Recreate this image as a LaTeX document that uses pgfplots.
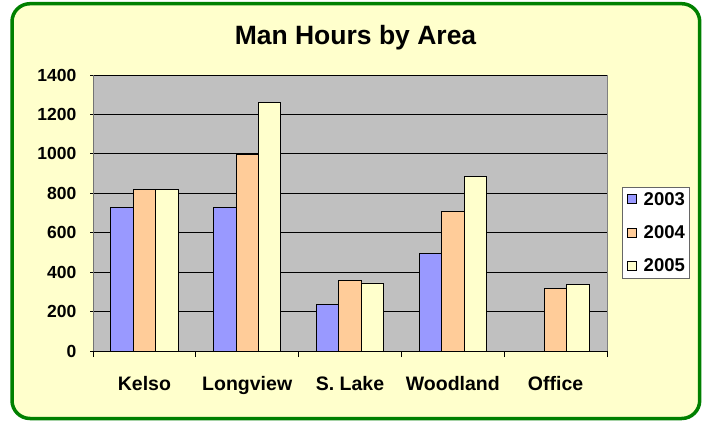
\documentclass[border=0pt]{standalone}
\usepackage{pgfplots}
\pgfplotsset{compat=1.18}
\usepackage{fontspec}
\setmainfont{Liberation Sans}
\definecolor{bggray}{HTML}{C0C0C0}
\definecolor{cA}{HTML}{9999FF}
\definecolor{cB}{HTML}{FFCC99}
\definecolor{cC}{HTML}{FFFFCC}
\definecolor{paper}{HTML}{FFFFCC}
\definecolor{frame}{HTML}{008000}
\begin{document}
\begin{tikzpicture}[x=1pt,y=1pt]
\path[fill=white] (0,0) rectangle (711,421);
\draw[frame, line width=3.5pt, rounded corners=18pt, fill=paper] (12,2.5) rectangle (699.7,417.3);
\node[anchor=base, font=\fontsize{26.5}{30}\selectfont\bfseries] at (355.5,376.7) {Man Hours by Area};
\begin{axis}[
  at={(93pt,70pt)}, anchor=south west,
  scale only axis, width=514pt, height=276pt,
  xmin=-0.5, xmax=4.5, ymin=0, ymax=1400,
  ytick={0,200,...,1400},
  xtick={0,1,2,3,4},
  xticklabels={Kelso,Longview,S. Lake,Woodland,Office},
  minor xtick={-0.5,0.5,...,4.5},
  major x tick style={draw=none},
  minor tick length=6pt,
  major tick length=6pt,
  tick align=outside,
  axis lines=left,
  axis line style={-, line width=0.9pt},
  x axis line style={black},
  y axis line style={black!55},
  tick style={black, line width=0.9pt},
  ymajorgrids,
  grid style={black, line width=0.8pt},
  axis background/.style={fill=bggray, draw=black!50, line width=0.8pt},
  /pgf/number format/assume math mode=true,
  /pgf/number format/1000 sep={},
  yticklabel style={font=\fontsize{17.5}{20}\selectfont\bfseries, anchor=east, inner sep=0pt, xshift=-13.5pt},
  xticklabel style={font=\fontsize{19.5}{22}\selectfont\bfseries, anchor=base, inner sep=0pt, yshift=-33pt},
  ybar=0pt, bar width=22.4pt,
  legend style={at={(1.029,0.595)}, anchor=north west, draw=black!60, fill=white,
    font=\fontsize{18.5}{20}\selectfont\bfseries, inner xsep=2.5pt, inner ysep=3pt, row sep=15pt,
    line width=0.8pt},
  legend cell align=left,
  legend image code/.code={\path (0pt,0pt) (16pt,0pt); \draw[#1, line width=0.8pt] (2pt,-4.5pt) rectangle (11pt,4.5pt);},
]
\addplot[fill=cA, draw=black, line width=0.9pt] coordinates {(0,730) (1,730) (2,237) (3,495)};
\addplot[fill=cB, draw=black, line width=0.9pt] coordinates {(0,818) (1,995) (2,359) (3,710) (4,318)};
\addplot[fill=cC, draw=black, line width=0.9pt] coordinates {(0,818) (1,1263) (2,345) (3,886) (4,338)};
\legend{2003,2004,2005}
\end{axis}
\end{tikzpicture}
\end{document}
